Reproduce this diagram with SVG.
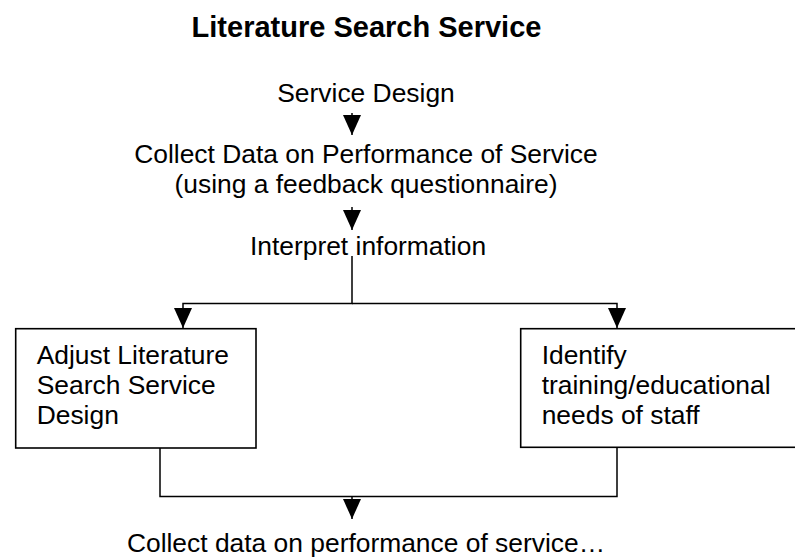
<svg xmlns="http://www.w3.org/2000/svg" width="795" height="559" viewBox="0 0 795 559">
<style>
text{font-family:"Liberation Sans",Arial,Helvetica,sans-serif;font-size:26.4px;fill:#000}
.title{font-weight:bold;font-size:29px}
.mid{text-anchor:middle}
.box{fill:#fff;stroke:#000;stroke-width:1.6}
.conn{fill:none;stroke:#000;stroke-width:1.5}
</style>
<defs>
<marker id="arr" viewBox="0 0 20 18" refX="20" refY="9" markerWidth="20" markerHeight="18" markerUnits="userSpaceOnUse" orient="auto">
<path d="M0,0 L20,9 L0,18 z" fill="#000"/>
</marker>
</defs>
<rect width="795" height="559" fill="#fff"/>
<g id="title"><text class="title mid" x="366.5" y="37">Literature Search Service</text></g>
<g id="service-design"><text class="mid" x="366" y="102">Service Design</text></g>
<g id="collect-data"><text class="mid" x="366" y="163">Collect Data on Performance of Service</text><text class="mid" x="366" y="193">(using a feedback questionnaire)</text></g>
<g id="interpret"><text class="mid" x="368" y="255">Interpret information</text></g>
<g id="adjust">
<rect class="box" x="15.7" y="328.7" width="240.3" height="119.3"/>
<text x="36.7" y="364">Adjust Literature</text>
<text x="36.7" y="394">Search Service</text>
<text x="36.7" y="424">Design</text>
</g>
<g id="identify">
<rect class="box" x="520.7" y="328.7" width="290" height="118.6"/>
<text x="541.7" y="364">Identify</text>
<text x="541.7" y="394">training/educational</text>
<text x="541.7" y="424">needs of staff</text>
</g>
<g id="collect-again"><text class="mid" x="366" y="552">Collect data on performance of service…</text></g>
<g id="connectors">
<path class="conn" d="M352,113 V135" marker-end="url(#arr)"/>
<path class="conn" d="M352,207 V230" marker-end="url(#arr)"/>
<path class="conn" d="M352,256 V303.5 H183 V328" marker-end="url(#arr)"/>
<path class="conn" d="M352,303.5 H617 V328" marker-end="url(#arr)"/>
<path class="conn" d="M160,448 V496.5 H617 V447.3"/>
<path class="conn" d="M352,496.5 V519" marker-end="url(#arr)"/>
</g>
</svg>
